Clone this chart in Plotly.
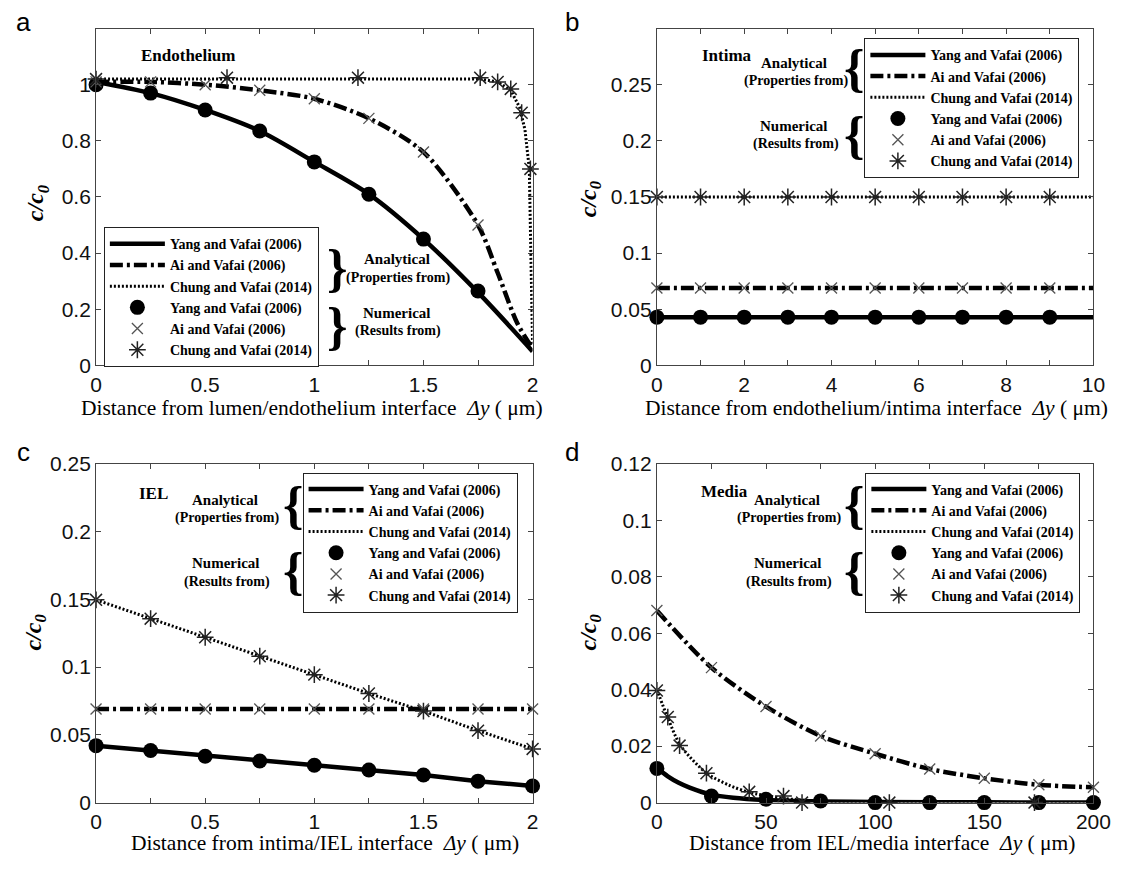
import plotly.graph_objects as go

W, H = 1131, 872

# ---------------- data ----------------
names = ["Yang and Vafai (2006)", "Ai and Vafai (2006)", "Chung and Vafai (2014)"]

# Panel a (Endothelium)
a_yang_lx = [0, 0.25, 0.5, 0.75, 1.0, 1.25, 1.5, 1.75, 2.0]
a_yang_ly = [1.01, 0.97, 0.91, 0.835, 0.725, 0.61, 0.45, 0.26, 0.05]
a_ai_lx = [0, 0.25, 0.5, 0.75, 1.0, 1.25, 1.5, 1.75, 1.84, 1.93, 2.0]
a_ai_ly = [1.01, 1.01, 1.0, 0.98, 0.95, 0.88, 0.76, 0.50, 0.33, 0.15, 0.06]
a_ch_lx = [0, 0.6, 1.2, 1.76, 1.84, 1.9, 1.94, 1.965, 1.985, 1.993, 2.0]
a_ch_ly = [1.02, 1.02, 1.02, 1.02, 1.01, 0.98, 0.92, 0.84, 0.70, 0.35, 0.07]
a_yang_mx = [0, 0.25, 0.5, 0.75, 1.0, 1.25, 1.5, 1.75]
a_yang_my = [1.0, 0.97, 0.91, 0.835, 0.725, 0.61, 0.45, 0.265]
a_ai_mx = [0, 0.25, 0.5, 0.75, 1.0, 1.25, 1.5, 1.75]
a_ai_my = [1.01, 1.01, 1.0, 0.98, 0.95, 0.88, 0.76, 0.50]
a_ch_mx = [0, 0.6, 1.2, 1.76, 1.84, 1.9, 1.95, 1.99]
a_ch_my = [1.02, 1.025, 1.025, 1.025, 1.01, 0.985, 0.90, 0.70]

# Panel b (Intima)
b_lx = [0, 10]
b_yang_ly = [0.043, 0.043]
b_ai_ly = [0.069, 0.069]
b_ch_ly = [0.15, 0.15]
b_mx = [0, 1, 2, 3, 4, 5, 6, 7, 8, 9]
b_yang_my = [0.043] * 10
b_ai_my = [0.069] * 10
b_ch_my = [0.15] * 10

# Panel c (IEL)
c_x = [0, 0.25, 0.5, 0.75, 1.0, 1.25, 1.5, 1.75, 2.0]
c_yang_y = [0.042, 0.0384, 0.0342, 0.0307, 0.0276, 0.024, 0.0204, 0.0158, 0.0122]
c_ai_y = [0.069, 0.069, 0.069, 0.069, 0.069, 0.069, 0.069, 0.069, 0.069]
c_ch_y = [0.1496, 0.1357, 0.122, 0.108, 0.0944, 0.0805, 0.0675, 0.0531, 0.0396]

# Panel d (Media)
d_yang_lx = [0, 5, 10, 15, 25, 35, 50, 75, 100, 150, 200]
d_yang_ly = [0.0122, 0.0093, 0.0070, 0.0053, 0.0028, 0.0017, 0.0009, 0.0004, 0.0002, 0.0001, 0.0]
d_ai_x = [0, 25, 50, 75, 100, 125, 150, 175, 200]
d_ai_y = [0.068, 0.0478, 0.034, 0.0236, 0.0173, 0.0119, 0.0086, 0.0063, 0.0054]
d_ch_lx = [0, 5, 11, 23, 33, 42, 58, 75, 100, 200]
d_ch_ly = [0.040, 0.030, 0.020, 0.0103, 0.0062, 0.0037, 0.0015, 0.0005, 0.0001, 0.0]
d_yang_mx = [0, 25, 50, 75, 100, 125, 150, 175, 200]
d_yang_my = [0.0121, 0.0023, 0.0012, 0.0006, 0.0, 0.0, 0.0, 0.0, 0.0]
d_ch_mx = [0, 5, 10.4, 22.7, 42.3, 58, 66.5, 106.5, 173]
d_ch_my = [0.0397, 0.0303, 0.0202, 0.0104, 0.0038, 0.0023, 0.0, 0.0, 0.0]

# ---------------- styling ----------------
SERIF = "Liberation Serif"
SANS = "Liberation Sans"
AX = "#444444"
DASHDOT = "13px,4px,3px,4px"
DOT = "2px,2px"

fig = go.Figure()

def line(x, y, name, dash, width, xa, ya, lg, spline=True):
    fig.add_trace(go.Scatter(
        x=x, y=y, name=name, mode="lines", xaxis=xa, yaxis=ya, legend=lg,
        line=dict(color="black", width=width, dash=dash,
                  shape="spline" if spline else "linear", smoothing=0.8),
        cliponaxis=False, hoverinfo="skip"))

def marks(x, y, name, kind, xa, ya, lg):
    if kind == "circle":
        m = dict(symbol="circle", size=15, color="black", line=dict(width=0))
    elif kind == "x":
        m = dict(symbol="x-thin-open", size=11, color="#555555", line=dict(width=1.3, color="#555555"))
    else:
        m = dict(symbol="asterisk-open", size=14, color="#222222", line=dict(width=1.5, color="#222222"))
    fig.add_trace(go.Scatter(
        x=x, y=y, name=name, mode="markers", xaxis=xa, yaxis=ya, legend=lg,
        marker=m, cliponaxis=False, hoverinfo="skip"))

# Panel a
line(a_yang_lx, a_yang_ly, names[0], "solid", 4.5, "x", "y", "legend")
line(a_ai_lx, a_ai_ly, names[1], DASHDOT, 4.5, "x", "y", "legend")
line(a_ch_lx, a_ch_ly, names[2], DOT, 3, "x", "y", "legend", spline=False)
marks(a_yang_mx, a_yang_my, names[0], "circle", "x", "y", "legend")
marks(a_ai_mx, a_ai_my, names[1], "x", "x", "y", "legend")
marks(a_ch_mx, a_ch_my, names[2], "star", "x", "y", "legend")

# Panel b
line(b_lx, b_yang_ly, names[0], "solid", 4.5, "x2", "y2", "legend2", spline=False)
line(b_lx, b_ai_ly, names[1], DASHDOT, 4.5, "x2", "y2", "legend2", spline=False)
line(b_lx, b_ch_ly, names[2], DOT, 3, "x2", "y2", "legend2", spline=False)
marks(b_mx, b_yang_my, names[0], "circle", "x2", "y2", "legend2")
marks(b_mx, b_ai_my, names[1], "x", "x2", "y2", "legend2")
marks(b_mx, b_ch_my, names[2], "star", "x2", "y2", "legend2")

# Panel c
line(c_x, c_yang_y, names[0], "solid", 4.5, "x3", "y3", "legend3", spline=False)
line(c_x, c_ai_y, names[1], DASHDOT, 4.5, "x3", "y3", "legend3", spline=False)
line(c_x, c_ch_y, names[2], DOT, 3, "x3", "y3", "legend3", spline=False)
marks(c_x, c_yang_y, names[0], "circle", "x3", "y3", "legend3")
marks(c_x, c_ai_y, names[1], "x", "x3", "y3", "legend3")
marks(c_x, c_ch_y, names[2], "star", "x3", "y3", "legend3")

# Panel d
line(d_yang_lx, d_yang_ly, names[0], "solid", 4.5, "x4", "y4", "legend4")
line(d_ai_x, d_ai_y, names[1], DASHDOT, 4.5, "x4", "y4", "legend4")
line(d_ch_lx, d_ch_ly, names[2], DOT, 3, "x4", "y4", "legend4")
marks(d_yang_mx, d_yang_my, names[0], "circle", "x4", "y4", "legend4")
marks(d_ai_x, d_ai_y, names[1], "x", "x4", "y4", "legend4")
marks(d_ch_mx, d_ch_my, names[2], "star", "x4", "y4", "legend4")

# ---------------- axes ----------------
def px_x(p):
    return p / W

def px_y(p):
    return 1 - p / H

LEFT_A, RIGHT_A = 92, 538
LEFT_B, RIGHT_B = 665, 1111
TOP_1, BOT_1 = 17, 363
TOP_2, BOT_2 = 464, 812

def xax(dom, rng, dtick, minor, anchor):
    return dict(domain=[px_x(dom[0]), px_x(dom[1])], range=rng, dtick=dtick, tick0=0,
                anchor=anchor, showline=True, linecolor=AX, linewidth=1, mirror="allticks",
                ticks="inside", ticklen=5, tickcolor=AX, showgrid=False, zeroline=False,
                tickfont=dict(family=SANS, size=21, color="#111111"),
                minor=dict(dtick=minor, ticks="inside", ticklen=5, tickcolor=AX, showgrid=False))

def yax(dom, rng, tickvals, anchor):
    return dict(domain=[px_y(dom[1]), px_y(dom[0])], range=rng, tickvals=tickvals,
                anchor=anchor, showline=True, linecolor=AX, linewidth=1, mirror="allticks",
                ticks="inside", ticklen=5, tickcolor=AX, showgrid=False, zeroline=False,
                tickfont=dict(family=SANS, size=21, color="#111111"))

a_yticks = [0, 0.2, 0.4, 0.6, 0.8, 1]
b_yticks = [0, 0.05, 0.1, 0.15, 0.2, 0.25]
c_yticks = [0, 0.05, 0.1, 0.15, 0.2, 0.25]
d_yticks = [0, 0.02, 0.04, 0.06, 0.08, 0.1, 0.12]

layout = dict(
    width=W, height=H, margin=dict(l=0, r=0, t=0, b=0),
    paper_bgcolor="white", plot_bgcolor="white",
    xaxis=xax((LEFT_A, RIGHT_A), [0, 2], 0.5, 0.25, "y"),
    yaxis=yax((TOP_1, BOT_1), [0, 1.2], a_yticks, "x"),
    xaxis2=xax((LEFT_B, RIGHT_B), [0, 10], 2, 1, "y2"),
    yaxis2=yax((TOP_1, BOT_1), [0, 0.3], b_yticks, "x2"),
    xaxis3=xax((LEFT_A, RIGHT_A), [0, 2], 0.5, 0.25, "y3"),
    yaxis3=yax((TOP_2, BOT_2), [0, 0.25], c_yticks, "x3"),
    xaxis4=xax((LEFT_B, RIGHT_B), [0, 200], 50, 25, "y4"),
    yaxis4=yax((TOP_2, BOT_2), [0, 0.12], d_yticks, "x4"),
)

def leg(x, y):
    return dict(x=px_x(x), y=px_y(y), xanchor="left", yanchor="top",
                bgcolor="white", bordercolor="#222222", borderwidth=1,
                font=dict(family=SERIF, size=14, color="black", weight="bold"),
                itemwidth=55, tracegroupgap=0, traceorder="normal",
                itemclick=False, itemdoubleclick=False)

layout["legend"] = leg(100, 221)
layout["legend2"] = leg(877, 27)
layout["legend3"] = leg(303, 473)
layout["legend4"] = leg(878, 473)

fig.update_layout(**layout)

# ---------------- annotations ----------------
ann = []

def txt(x, y, s, size=15, family=SERIF, bold=True, angle=0, italic=False):
    ann.append(dict(x=px_x(x), y=px_y(y), xref="paper", yref="paper", text=s,
                    showarrow=False, xanchor="center", yanchor="middle", textangle=angle,
                    font=dict(family=family, size=size, color="black",
                              weight="bold" if bold else "normal",
                              style="italic" if italic else "normal")))

# panel letters
for lx, ly, s in [(18, 10, "a"), (578, 10, "b"), (18, 452, "c"), (578, 452, "d")]:
    txt(lx, ly, s, size=26, family=SANS, bold=False)

# y titles
for lx, ly in [(32, 196), (597, 192), (30, 637), (597, 637)]:
    txt(lx, ly, "c/c<sub>0</sub>", size=24, bold=True, italic=True, angle=-90)

# x titles
xt = [
    (313, 407, "Distance from lumen/endothelium interface  <i>Δy</i> ( μm)"),
    (889, 407, "Distance from endothelium/intima interface  <i>Δy</i> ( μm)"),
    (326, 854, "Distance from intima/IEL interface  <i>Δy</i> ( μm)"),
    (896, 854, "Distance from IEL/media interface  <i>Δy</i> ( μm)"),
]
for lx, ly, s in xt:
    txt(lx, ly, s, size=21.5, bold=False)

# region labels
txt(186, 45, "Endothelium", size=17)
txt(737, 45, "Intima", size=17)
txt(151, 495, "IEL", size=17)
txt(734, 493, "Media", size=17)

# bracket labels
groups = [
    # (label x, analytical y, numerical y, brace x, brace char, upper brace y, lower brace y)
    (399, 254, 309, 339, "}", 263, 323),
    (805, 52, 117, 867, "{", 58, 127),
    (224, 501, 566, 294, "{", 507, 575),
    (798, 501, 566, 867, "{", 507, 575),
]
for gx, ay, ny, bx, ch, uy, ly in groups:
    txt(gx, ay, "Analytical", size=15)
    txt(gx + 2, ay + 19, "(Properties from)", size=14)
    txt(gx, ny, "Numerical", size=15)
    txt(gx + 2, ny + 19, "(Results from)", size=14)
    txt(bx, uy, ch, size=52, bold=True)
    txt(bx, ly, ch, size=52, bold=True)

fig.update_layout(annotations=ann)

fig.write_html("out.html")
